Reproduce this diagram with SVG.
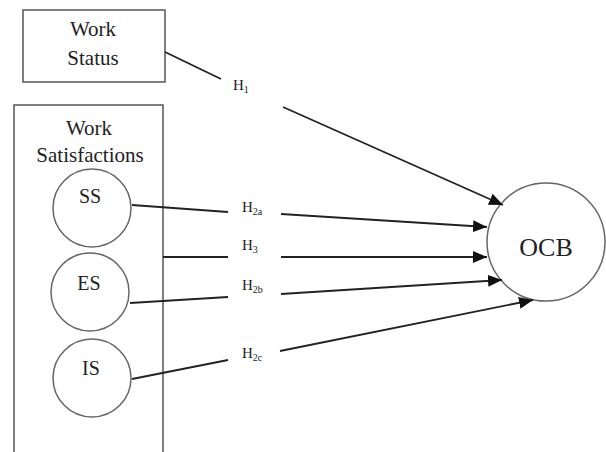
<svg xmlns="http://www.w3.org/2000/svg" width="606" height="452" viewBox="0 0 606 452">
<defs>
<style>
.box{fill:#fff;stroke:#555;stroke-width:1.5}
.circ{fill:#fff;stroke:#666;stroke-width:1.5}
text{font-family:'Liberation Serif',serif;fill:#222}
.t{text-anchor:middle}
.big{font-size:21px}
.h{font-size:15px}
.sub{font-size:10px}
.ln{stroke:#222;stroke-width:1.8;fill:none}
.ar{stroke:#222;stroke-width:1.8;fill:none;marker-end:url(#arr)}
</style>
<marker id="arr" markerUnits="userSpaceOnUse" markerWidth="14" markerHeight="12" refX="14" refY="6" orient="auto">
<path d="M0,0 L14,6 L0,12 Z" fill="#111"/>
</marker>
</defs>
<rect width="606" height="452" fill="#fff"/>
<g id="work-status">
<rect class="box" x="23" y="10" width="142" height="72"/>
<text class="t big" x="93" y="36">Work</text>
<text class="t big" x="93" y="65">Status</text>
</g>
<g id="work-satisfactions">
<rect class="box" x="14" y="105" width="149" height="360"/>
<text class="t big" x="89" y="135">Work</text>
<text class="t big" x="90" y="162">Satisfactions</text>
</g>
<g id="ss">
<circle class="circ" cx="92" cy="208" r="39"/>
<text class="t" font-size="20" x="90" y="203">SS</text>
</g>
<g id="es">
<circle class="circ" cx="90" cy="292" r="39"/>
<text class="t" font-size="20" x="89" y="290">ES</text>
</g>
<g id="is">
<circle class="circ" cx="92" cy="378" r="39"/>
<text class="t" font-size="20" x="91" y="375">IS</text>
</g>
<g id="ocb">
<circle class="circ" cx="546" cy="242" r="59"/>
<text class="t" font-size="26" x="546" y="256">OCB</text>
</g>
<g id="connectors">
<line class="ln" x1="165" y1="52" x2="221" y2="79"/>
<line class="ar" x1="283" y1="107" x2="503" y2="205"/>
<line class="ln" x1="132" y1="205" x2="228" y2="212"/>
<line class="ar" x1="281" y1="214" x2="487" y2="227"/>
<line class="ln" x1="163" y1="257" x2="228" y2="257"/>
<line class="ar" x1="281" y1="257" x2="487" y2="257"/>
<line class="ln" x1="130" y1="303" x2="228" y2="297"/>
<line class="ar" x1="281" y1="294" x2="502" y2="280"/>
<line class="ln" x1="132" y1="379" x2="228" y2="360"/>
<line class="ar" x1="280" y1="351" x2="533" y2="300"/>
<text class="h" x="233" y="90">H<tspan class="sub" dy="3">1</tspan></text>
<text class="h" x="242" y="212">H<tspan class="sub" dy="3">2a</tspan></text>
<text class="h" x="242" y="250">H<tspan class="sub" dy="3">3</tspan></text>
<text class="h" x="242" y="290">H<tspan class="sub" dy="3">2b</tspan></text>
<text class="h" x="242" y="358">H<tspan class="sub" dy="3">2c</tspan></text>
</g>
</svg>
